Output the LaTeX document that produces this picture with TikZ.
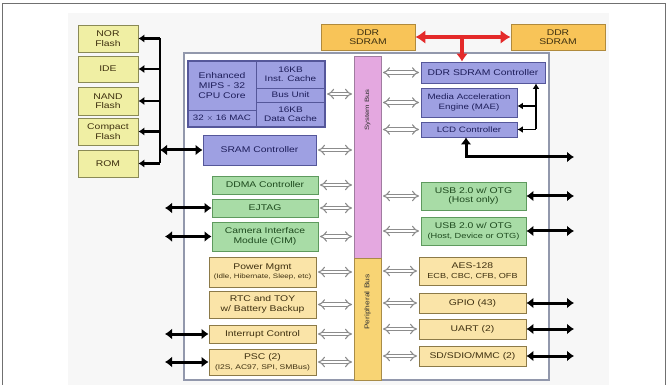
\documentclass[tikz,border=0pt]{standalone}
\usepackage{fontspec}
\setmainfont{Liberation Sans}[FakeStretch=1.25]
\usetikzlibrary{arrows.meta}
\definecolor{bluefill}{HTML}{9EA0E2}
\definecolor{blueline}{HTML}{55579A}
\definecolor{bluetext}{HTML}{1E1E5A}
\definecolor{greenfill}{HTML}{A8DCA6}
\definecolor{greenline}{HTML}{5E9A5E}
\definecolor{greentext}{HTML}{1E4A1E}
\definecolor{tanfill}{HTML}{FAE4A8}
\definecolor{tanline}{HTML}{8C7A48}
\definecolor{tantext}{HTML}{3E3010}
\definecolor{flashfill}{HTML}{F0EFA4}
\definecolor{flashline}{HTML}{8A8A56}
\definecolor{ddrfill}{HTML}{F8C458}
\definecolor{ddrline}{HTML}{B08A3C}
\definecolor{sysbusfill}{HTML}{E4A8E0}
\definecolor{sysbusline}{HTML}{A07CA0}
\definecolor{perbusfill}{HTML}{F8D474}
\definecolor{perbusline}{HTML}{A88C48}
\definecolor{chipline}{HTML}{9298AC}
\definecolor{redarrow}{HTML}{E42A2A}
\definecolor{framegray}{HTML}{707070}
\definecolor{holline}{HTML}{8C8C8C}
\newcommand{\fsz}[1]{\fontsize{#1}{#1}\selectfont}
\tikzset{
  box/.style={draw, line width=0.9pt, inner sep=0pt, align=center, font=\fontsize{8.3}{9.6}\selectfont},
  bluebox/.style={box, fill=bluefill, draw=blueline, text=bluetext},
  greenbox/.style={box, fill=greenfill, draw=greenline, text=greentext},
  tanbox/.style={box, fill=tanfill, draw=tanline, text=tantext},
  flashbox/.style={box, fill=flashfill, draw=flashline, text=tantext},
  ddrbox/.style={box, fill=ddrfill, draw=ddrline, text=tantext},
  buslabel/.style={rotate=90, text=black!80},
  hol/.style={draw=holline, double=white, double distance=2.4pt, line width=1.1pt, {Implies}-{Implies}},
  blkdbl/.style={line width=3pt, {Latex[length=7pt,width=11pt]}-{Latex[length=7pt,width=11pt]}},
  blkone/.style={line width=2.4pt, -{Latex[length=6pt,width=8.5pt]}},
  blkthin/.style={line width=1.7pt, -{Latex[length=5.5pt,width=7pt]}},
  redarr/.style={draw=redarrow, line width=4.4pt, {Latex[length=10pt,width=14pt]}-{Latex[length=10pt,width=14pt]}},
  redone/.style={draw=redarrow, line width=4.4pt, -{Latex[length=8pt,width=12pt]}},
}
\begin{document}
\begin{tikzpicture}[x=1pt, y=-1pt]
\useasboundingbox (0,0) rectangle (670,385);
% background
\fill[black!3] (68,13) rectangle (609,386);
\draw[framegray, line width=0.9pt] (2,390) -- (2,3) -- (665,3) -- (665,390);
% chip outline
\draw[chipline, fill=white, line width=1.3pt] (184,53) rectangle (549,380);

% flash devices
\node[flashbox, minimum width=60pt, minimum height=27pt] (nor) at (108,38.5) {NOR\\Flash};
\node[flashbox, minimum width=60pt, minimum height=26pt] (ide) at (108,69) {IDE};
\node[flashbox, minimum width=60pt, minimum height=28pt] (nand) at (108,101) {NAND\\Flash};
\node[flashbox, minimum width=60pt, minimum height=27pt] (cf) at (108,131.5) {Compact\\Flash};
\node[flashbox, minimum width=60pt, minimum height=27pt] (rom) at (108,163.5) {ROM};

% DDR SDRAM
\node[ddrbox, minimum width=94pt, minimum height=26pt] (ddr1) at (368,37) {DDR\\SDRAM};
\node[ddrbox, minimum width=94pt, minimum height=26pt] (ddr2) at (558,37) {DDR\\SDRAM};

% buses
\node[draw=sysbusline, fill=sysbusfill, line width=0.9pt, minimum width=27pt, minimum height=202pt, inner sep=0pt] (sysbus) at (367.5,157) {};
\node[draw=perbusline, fill=perbusfill, line width=0.9pt, minimum width=27pt, minimum height=122pt, inner sep=0pt] (perbus) at (367.5,319) {};
\node[buslabel, font=\fsz{6.2}] (sysbuslbl) at (367.5,110) {System Bus};
\node[buslabel, font=\fsz{6.8}] (perbuslbl) at (367.5,302) {Peripheral Bus};

% CPU block
\node[bluebox, minimum width=68pt, minimum height=49pt] (core) at (222,85.5) {Enhanced\\MIPS - 32\\CPU Core};
\node[bluebox, minimum width=68pt, minimum height=17pt, font=\fsz{7.8}] (mac) at (222,118.5) {32 $\times$ 16 MAC};
\node[bluebox, minimum width=69pt, minimum height=27pt, font=\fontsize{8}{9}\selectfont] (icache) at (290.5,74.5) {16KB\\Inst. Cache};
\node[bluebox, minimum width=69pt, minimum height=14pt, font=\fsz{8}] (busunit) at (290.5,95) {Bus Unit};
\node[bluebox, minimum width=69pt, minimum height=25pt, font=\fontsize{8}{9}\selectfont] (dcache) at (290.5,114.5) {16KB\\Data Cache};
\node[draw=blueline, line width=1.2pt, minimum width=137pt, minimum height=66pt, inner sep=0pt] (cpu) at (256.5,94) {};

\node[bluebox, minimum width=113pt, minimum height=30pt] (sram) at (259.5,150) {SRAM Controller};

% left green
\node[greenbox, minimum width=106pt, minimum height=18pt] (ddma) at (265,185) {DDMA Controller};
\node[greenbox, minimum width=106pt, minimum height=18pt] (ejtag) at (265,208) {EJTAG};
\node[greenbox, minimum width=106pt, minimum height=29pt] (cim) at (265,236.5) {Camera Interface\\Module (CIM)};

% left tan
\node[tanbox, minimum width=107pt, minimum height=30pt] (power) at (262.5,272) {Power Mgmt\\{\fsz{6.4}(Idle, Hibernate, Sleep, etc)}};
\node[tanbox, minimum width=107pt, minimum height=27pt] (rtc) at (262.5,304.5) {RTC and TOY\\w/ Battery Backup};
\node[tanbox, minimum width=107pt, minimum height=18pt] (intc) at (262.5,334) {Interrupt Control};
\node[tanbox, minimum width=107pt, minimum height=26pt] (psc) at (262.5,362) {PSC (2)\\{\fsz{6.8}(I2S, AC97, SPI, SMBus)}};

% right blue
\node[bluebox, minimum width=124pt, minimum height=21pt] (ddrc) at (483,72.5) {DDR SDRAM Controller};
\node[bluebox, minimum width=96pt, minimum height=29pt, font=\fontsize{7.8}{9.4}\selectfont] (mae) at (469,102.5) {Media Acceleration\\Engine (MAE)};
\node[bluebox, minimum width=96pt, minimum height=15pt, font=\fsz{7.8}] (lcd) at (469,129.5) {LCD Controller};

% right green
\node[greenbox, minimum width=105pt, minimum height=28pt] (usbh) at (473.5,196) {USB 2.0 w/ OTG\\(Host only)};
\node[greenbox, minimum width=105pt, minimum height=28pt] (usbd) at (473.5,231) {USB 2.0 w/ OTG\\{\fsz{7.4}(Host, Device or OTG)}};

% right tan
\node[tanbox, minimum width=107pt, minimum height=28pt] (aes) at (472.5,271) {AES-128\\{\fsz{7.3}ECB, CBC, CFB, OFB}};
\node[tanbox, minimum width=107pt, minimum height=20pt] (gpio) at (472.5,303) {GPIO (43)};
\node[tanbox, minimum width=107pt, minimum height=20pt] (uart) at (472.5,329) {UART (2)};
\node[tanbox, minimum width=107pt, minimum height=20pt] (sd) at (472.5,356) {SD/SDIO/MMC (2)};

% hollow bus connectors
\foreach \n in {cpu,sram,ddma,ejtag,cim}
  \draw[hol] ([xshift=1.5pt]\n.east) -- ([xshift=-1.5pt]\n.east -| sysbus.west);
\foreach \n in {power,rtc,intc,psc}
  \draw[hol] ([xshift=1.5pt]\n.east) -- ([xshift=-1.5pt]\n.east -| perbus.west);
\foreach \n in {ddrc,mae,lcd,usbh,usbd}
  \draw[hol] ([xshift=1.5pt]\n.west -| sysbus.east) -- ([xshift=-1.5pt]\n.west);
\foreach \n in {aes,gpio,uart,sd}
  \draw[hol] ([xshift=1.5pt]\n.west -| perbus.east) -- ([xshift=-1.5pt]\n.west);

% flash bus
\coordinate (busT) at (160,38.5);
\coordinate (busB) at (160,163.5);
\draw[line width=2.4pt] (busT) -- (busB);
\foreach \n in {nor,ide,nand,cf,rom}
  \draw[blkone] (\n.east -| busT) -- (\n.east);
\draw[blkdbl] (sram.west -| busT) -- (sram.west);

% left external arrows
\coordinate (lx) at (165,0);
\foreach \n in {ejtag,cim,intc,psc}
  \draw[blkdbl] (\n.west -| lx) -- (\n.west);

% right external arrows
\coordinate (rx) at (574,0);
\foreach \n in {usbh,usbd,gpio,uart,sd}
  \draw[blkdbl] (\n.east) -- (\n.east -| rx);

% LCD output
\coordinate (lo) at (466,157);
\coordinate (le) at (574,157);
\draw[blkdbl] (lcd.south -| lo) -- (lo) -- (le);

% MAE / LCD link to DDR controller
\coordinate (cj) at (536,129.5);
\coordinate (cm) at (536,106);
\draw[blkthin] (cj) -- (cj |- ddrc.south);
\draw[blkthin] (cj) -- (lcd.east);
\draw[blkthin] (cm) -- (cm -| mae.east);

% red DDR arrows
\draw[redarr] (ddr1.east) -- (ddr2.west);
\coordinate (rj) at (462,37);
\draw[redone] (rj) -- (rj |- ddrc.north);
\end{tikzpicture}
\end{document}
